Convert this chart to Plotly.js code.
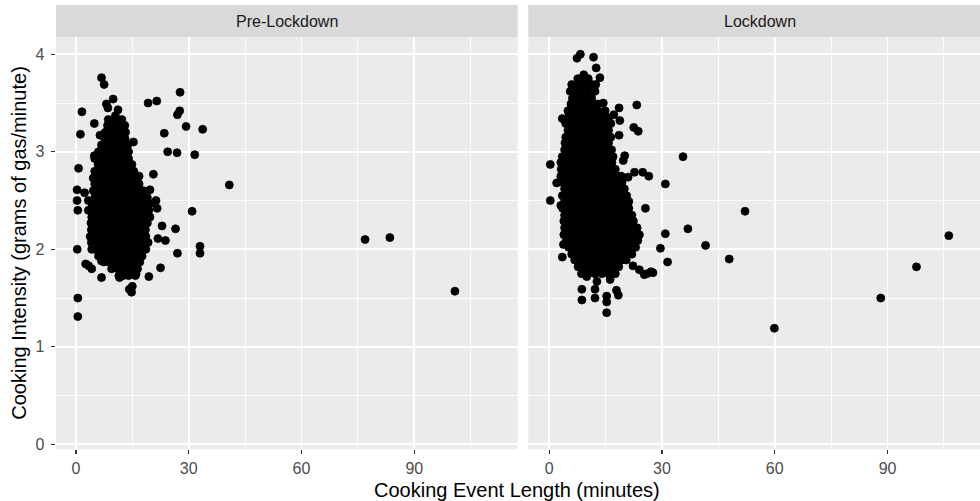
<!DOCTYPE html>
<html><head><meta charset="utf-8">
<script src="https://cdn.plot.ly/plotly-3.0.1.min.js"></script>
<style>html,body{margin:0;padding:0;background:#fff;overflow:hidden}#chart{width:980px;height:501px}</style>
</head><body><div id="chart"></div>
<script>
const facetLabels = ['Pre-Lockdown', 'Lockdown'];
const xTitle = 'Cooking Event Length (minutes)';
const yTitle = 'Cooking Intensity (grams of gas/minute)';
const xTicks = [0, 30, 60, 90];
const yTicks = [0, 1, 2, 3, 4];

// Dense core of each facet: each row = [intensity, event lengths...]
const preCoreRows = [
  [3.33, 8.6,10.4,12.2],
  [3.27, 8.4,9.5,11.3,13.0],
  [3.20, 7.8,8.6,10.4,12.2,13.2],
  [3.13, 7.7,9.5,11.3,13.1],
  [3.07, 6.8,8.6,10.4,12.2,13.8],
  [3.00, 6.0,7.7,9.5,11.3,13.1,14.0],
  [2.93, 5.0,6.8,8.6,10.4,12.2,14.0],
  [2.87, 5.9,7.7,9.5,11.3,13.1,14.9],
  [2.80, 5.0,6.8,8.6,10.4,12.2,14.0,15.4],
  [2.73, 4.6,5.9,7.7,9.5,11.3,13.1,14.9,16.0],
  [2.67, 5.0,6.8,8.6,10.4,12.2,14.0,15.8,16.8],
  [2.60, 4.6,5.9,7.7,9.5,11.3,13.1,14.9,16.7,18.0],
  [2.53, 5.0,6.8,8.6,10.4,12.2,14.0,15.8,17.6,19.0],
  [2.47, 4.2,5.9,7.7,9.5,11.3,13.1,14.9,16.7,18.5,19.8],
  [2.40, 4.2,5.0,6.8,8.6,10.4,12.2,14.0,15.8,17.6,19.4],
  [2.33, 4.2,5.9,7.7,9.5,11.3,13.1,14.9,16.7,18.5,19.4],
  [2.27, 4.0,5.0,6.8,8.6,10.4,12.2,14.0,15.8,17.6,19.0],
  [2.20, 4.1,5.9,7.7,9.5,11.3,13.1,14.9,16.7,18.5],
  [2.13, 3.8,5.0,6.8,8.6,10.4,12.2,14.0,15.8,17.6,18.6],
  [2.07, 4.1,5.9,7.7,9.5,11.3,13.1,14.9,16.7,18.5,19.2],
  [2.00, 4.2,5.0,6.8,8.6,10.4,12.2,14.0,15.8,17.6,18.6],
  [1.93, 6.0,7.7,9.5,11.3,13.1,14.9,16.7,17.6],
  [1.87, 7.4,8.6,10.4,12.2,14.0,15.8,17.0],
  [1.80, 9.5,11.3,13.1,14.9,16.4],
  [1.73, 11.4,12.2,14.0,15.8]
];
// Scattered points: [length, intensity]
const preOutliers = [
  [6.8,3.76],[7.5,3.69],[27.7,3.61],[8.1,3.49],[8.5,3.45],[9.9,3.54],[11.2,3.43],[19.2,3.50],[21.5,3.52],
  [27.6,3.42],[27.0,3.38],[1.6,3.41],[4.9,3.29],[29.3,3.26],[33.7,3.23],[1.2,3.18],[23.5,3.19],[10.5,3.37],
  [6.4,3.17],[15.3,3.10],[24.4,3.00],[26.9,2.99],[31.6,2.97],[4.9,2.96],[0.7,2.83],[40.8,2.66],[20.6,2.77],
  [16.8,2.75],[0.3,2.61],[2.3,2.58],[0.3,2.50],[0.5,2.40],[3.3,2.40],[3.3,2.50],[19.7,2.61],[21.3,2.50],
  [21.6,2.42],[30.9,2.39],[19.7,2.33],[22.9,2.24],[26.5,2.21],[21.8,2.11],[23.8,2.09],[33.0,2.03],[33.0,1.96],
  [27.0,1.96],[0.35,2.00],[2.6,1.85],[4.2,1.80],[3.4,1.83],[6.8,1.71],[6.8,1.88],[11.6,1.71],[12.5,1.73],
  [16.0,1.75],[19.4,1.72],[22.5,1.81],[14.2,1.59],[14.8,1.56],[15.0,1.62],[0.5,1.50],[0.5,1.31],
  [76.9,2.10],[83.5,2.12],[100.8,1.57]
];
const lockCoreRows = [
  [3.75, 7.6,8.6,10.4],
  [3.69, 6.0,7.7,9.5,11.3,12.4],
  [3.62, 5.6,6.8,8.6,10.4,12.2],
  [3.55, 6.2,7.7,9.5,11.3],
  [3.49, 5.8,6.8,8.6,10.4,12.2,13.0],
  [3.42, 5.0,5.9,7.7,9.5,11.3,13.1,14.9],
  [3.35, 5.0,6.8,8.6,10.4,12.2,14.0,15.8],
  [3.29, 4.4,5.9,7.7,9.5,11.3,13.1,14.9,16.4],
  [3.22, 5.0,6.8,8.6,10.4,12.2,14.0,15.8],
  [3.15, 4.4,5.9,7.7,9.5,11.3,13.1,14.9,16.4],
  [3.09, 4.2,5.0,6.8,8.6,10.4,12.2,14.0,15.8],
  [3.02, 4.1,5.9,7.7,9.5,11.3,13.1,14.9,16.6],
  [2.95, 3.5,5.0,6.8,8.6,10.4,12.2,14.0,15.8,17.0],
  [2.89, 3.1,4.1,5.9,7.7,9.5,11.3,13.1,14.9,16.7],
  [2.82, 3.2,5.0,6.8,8.6,10.4,12.2,14.0,15.8,17.6],
  [2.75, 3.1,4.1,5.9,7.7,9.5,11.3,13.1,14.9,16.7,18.5,19.2],
  [2.69, 3.2,5.0,6.8,8.6,10.4,12.2,14.0,15.8,17.6,19.4],
  [2.62, 4.1,5.9,7.7,9.5,11.3,13.1,14.9,16.7,18.5,20.0],
  [2.55, 3.5,5.0,6.8,8.6,10.4,12.2,14.0,15.8,17.6,19.4,20.6],
  [2.49, 4.1,5.9,7.7,9.5,11.3,13.1,14.9,16.7,18.5,20.3,21.2],
  [2.42, 3.6,5.0,6.8,8.6,10.4,12.2,14.0,15.8,17.6,19.4,21.2],
  [2.35, 4.1,5.9,7.7,9.5,11.3,13.1,14.9,16.7,18.5,20.3,22.0],
  [2.29, 3.9,5.0,6.8,8.6,10.4,12.2,14.0,15.8,17.6,19.4,21.2,22.4],
  [2.22, 4.1,5.9,7.7,9.5,11.3,13.1,14.9,16.7,18.5,20.3,22.1,23.4],
  [2.15, 3.9,5.0,6.8,8.6,10.4,12.2,14.0,15.8,17.6,19.4,21.2,23.0,24.0],
  [2.09, 4.6,5.9,7.7,9.5,11.3,13.1,14.9,16.7,18.5,20.3,22.1,23.6],
  [2.02, 5.2,6.8,8.6,10.4,12.2,14.0,15.8,17.6,19.4,21.2,23.0],
  [1.95, 6.0,7.7,9.5,11.3,13.1,14.9,16.7,18.5,20.3,22.0],
  [1.89, 6.8,8.6,10.4,12.2,14.0,15.8,17.6,19.4,20.5],
  [1.82, 7.7,9.5,11.3,13.1,14.9,16.7,18.5],
  [1.75, 8.6,10.4,12.2,14.0,15.8,17.6]
];
const lockOutliers = [
  [8.3,4.00],[7.4,3.96],[11.8,3.97],[12.5,3.86],[13.5,3.76],[9.2,3.79],[14.4,3.50],[18.6,3.45],[23.3,3.48],
  [17.2,3.38],[18.8,3.32],[3.5,3.34],[22.5,3.25],[23.7,3.21],[18.6,3.17],[20.1,2.96],[19.7,2.91],[35.6,2.95],
  [0.3,2.87],[22.7,2.79],[24.9,2.79],[26.5,2.75],[21.0,2.74],[2.0,2.68],[30.9,2.67],[0.3,2.50],[3.1,2.45],
  [25.6,2.42],[30.9,2.16],[36.9,2.21],[41.6,2.04],[29.6,2.01],[31.5,1.87],[3.8,2.05],[3.5,1.92],[27.1,1.77],
  [25.3,1.74],[22.3,1.83],[24.0,1.79],[8.7,1.59],[8.7,1.48],[12.2,1.59],[12.2,1.50],[15.3,1.52],[15.3,1.46],
  [17.9,1.58],[18.4,1.53],[15.3,1.35],[10.0,1.72],[12.7,1.67],[16.2,1.69],[52.1,2.39],[47.9,1.90],
  [106.3,2.14],[97.7,1.82],[88.2,1.50],[59.9,1.19],[27.6,1.76],[26.0,1.75]
];

function collect(rows, extra) {
  const x = [], y = [];
  rows.forEach(r => r.slice(1).forEach(v => { x.push(v); y.push(r[0]); }));
  extra.forEach(p => { x.push(p[0]); y.push(p[1]); });
  return {x, y};
}
const pre = collect(preCoreRows, preOutliers);
const lock = collect(lockCoreRows, lockOutliers);

const W = 980, H = 501;
const FONT = 'Liberation Sans, Arial, Helvetica, sans-serif';
const marker = {color: '#000000', size: 8, line: {width: 0.8, color: '#000000'}};
const traces = [
  {type: 'scatter', mode: 'markers', x: pre.x, y: pre.y, xaxis: 'x', yaxis: 'y', marker, hoverinfo: 'x+y', showlegend: false},
  {type: 'scatter', mode: 'markers', x: lock.x, y: lock.y, xaxis: 'x2', yaxis: 'y2', marker, hoverinfo: 'x+y', showlegend: false}
];

const panelTop = 37, panelBot = 449.3;
const yDom = [1 - panelBot / H, 1 - panelTop / H];
const leftDom = [56 / W, 517.7 / W];
const rightDom = [528.3 / W, 1];
const tickFont = {family: FONT, size: 16, color: '#4D4D4D'};

function xAxis(dom, anchor, range) {
  return {
    domain: dom, anchor, range, tickmode: 'array', tickvals: xTicks, ticktext: xTicks.map(String),
    showgrid: true, gridcolor: '#FFFFFF', gridwidth: 1.8, zeroline: false, showline: false,
    ticks: 'outside', ticklen: 4, tickwidth: 1.3, tickcolor: '#333333', tickfont: tickFont,
    minor: {dtick: 15, tick0: 0, showgrid: true, gridcolor: '#FFFFFF', gridwidth: 0.9, ticks: ''},
    fixedrange: true
  };
}
const layout = {
  width: W, height: H, margin: {l: 0, r: 0, t: 0, b: 0},
  paper_bgcolor: '#FFFFFF', plot_bgcolor: '#EBEBEB',
  font: {family: FONT},
  xaxis: xAxis(leftDom, 'y', [-5.3, 117.5]),
  xaxis2: xAxis(rightDom, 'y2', [-5.55, 114.6]),
  yaxis: {
    domain: yDom, anchor: 'x', range: [-0.051, 4.177], tickmode: 'array', tickvals: yTicks, ticktext: yTicks.map(String),
    showgrid: true, gridcolor: '#FFFFFF', gridwidth: 1.8, zeroline: false, showline: false,
    ticks: 'outside', ticklen: 4.5, tickwidth: 1.3, tickcolor: '#333333', tickfont: tickFont,
    ticklabelstandoff: 3,
    minor: {dtick: 0.5, tick0: 0, showgrid: true, gridcolor: '#FFFFFF', gridwidth: 0.9, ticks: ''},
    fixedrange: true
  },
  yaxis2: {
    domain: yDom, anchor: 'x2', matches: 'y', range: [-0.051, 4.177], tickmode: 'array', tickvals: yTicks,
    showticklabels: false, ticks: '',
    showgrid: true, gridcolor: '#FFFFFF', gridwidth: 1.8, zeroline: false, showline: false,
    minor: {dtick: 0.5, tick0: 0, showgrid: true, gridcolor: '#FFFFFF', gridwidth: 0.9, ticks: ''},
    fixedrange: true
  },
  shapes: [
    {type: 'rect', xref: 'paper', yref: 'paper', x0: leftDom[0], x1: leftDom[1], y0: 1 - panelTop / H, y1: 1 - 5 / H, fillcolor: '#D9D9D9', line: {width: 0}, layer: 'below'},
    {type: 'rect', xref: 'paper', yref: 'paper', x0: rightDom[0], x1: rightDom[1], y0: 1 - panelTop / H, y1: 1 - 5 / H, fillcolor: '#D9D9D9', line: {width: 0}, layer: 'below'}
  ],
  annotations: [
    {text: facetLabels[0], xref: 'paper', yref: 'paper', x: (56 + 517.7) / 2 / W, y: 1 - 21 / H, xanchor: 'center', yanchor: 'middle', showarrow: false, font: {family: FONT, size: 16, color: '#1A1A1A'}},
    {text: facetLabels[1], xref: 'paper', yref: 'paper', x: 759.5 / W, y: 1 - 21 / H, xanchor: 'center', yanchor: 'middle', showarrow: false, font: {family: FONT, size: 16, color: '#1A1A1A'}},
    {text: xTitle, xref: 'paper', yref: 'paper', x: 516.5 / W, y: 1 - 489.5 / H, xanchor: 'center', yanchor: 'middle', showarrow: false, font: {family: FONT, size: 20, color: '#000000'}},
    {text: yTitle, xref: 'paper', yref: 'paper', x: 19.5 / W, y: 1 - 243.2 / H, xanchor: 'center', yanchor: 'middle', textangle: -90, showarrow: false, font: {family: FONT, size: 20, color: '#000000'}}
  ]
};
Plotly.newPlot('chart', traces, layout, {displayModeBar: false, staticPlot: true});
</script>
</body></html>
